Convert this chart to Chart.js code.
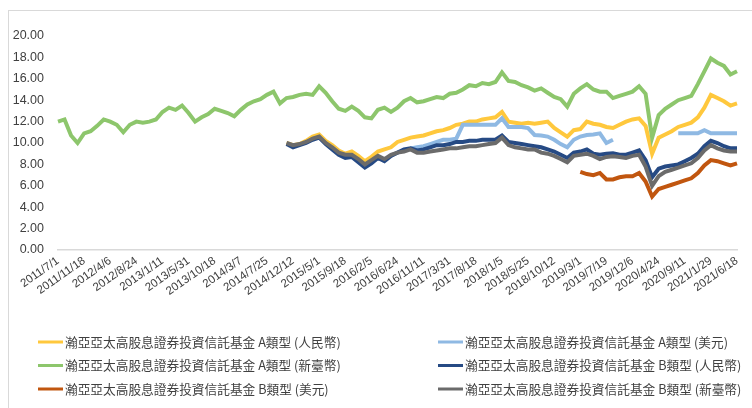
<!DOCTYPE html>
<html>
<head>
<meta charset="utf-8">
<script src="https://cdn.jsdelivr.net/npm/chart.js@4"></script>
<style>
html,body{margin:0;padding:0;background:#fff;overflow:hidden}
#frame{position:absolute;left:8px;top:10px;width:800px;height:500px;border-top:1px solid #d9d9d9;border-left:1px solid #d9d9d9}
#wrap{position:absolute;left:0;top:0;width:752px;height:408px}
</style>
</head>
<body>
<div id="frame"></div>
<div id="wrap"><canvas id="chart"></canvas></div>
<script>
// 每5週一點, 2011/7/1 ~ 2021/6/18
const startDate=Date.UTC(2011,6,1)
const pointCount=105

const names=[
"瀚亞亞太高股息證券投資信託基金 A類型 (人民幣)",
"瀚亞亞太高股息證券投資信託基金 A類型 (美元)",
"瀚亞亞太高股息證券投資信託基金 A類型 (新臺幣)",
"瀚亞亞太高股息證券投資信託基金 B類型 (人民幣)",
"瀚亞亞太高股息證券投資信託基金 B類型 (美元)",
"瀚亞亞太高股息證券投資信託基金 B類型 (新臺幣)"
]
const colors=["#ffc83d","#8fb9e3","#8dc66c","#264a84","#c1560f","#6b6b6b"]

const aTwd=[12.0,12.2,10.7,10.0,10.9,11.1,11.6,12.2,12.0,11.7,
11.0,11.7,12.0,11.9,12.0,12.2,12.9,13.3,13.1,13.5,
12.8,12.0,12.4,12.7,13.2,13.0,12.8,12.5,13.1,13.6,
13.9,14.1,14.5,14.8,13.7,14.2,14.3,14.5,14.6,14.5,
15.3,14.7,13.9,13.2,13.0,13.4,13.0,12.4,12.3,13.1,
13.3,12.9,13.3,13.9,14.2,13.8,13.9,14.1,14.3,14.2,
14.6,14.7,15.0,15.4,15.3,15.6,15.5,15.7,16.6,15.8,
15.7,15.4,15.2,14.9,15.1,14.7,14.3,14.1,13.4,14.6,
15.1,15.5,15.0,14.8,14.8,14.2,14.4,14.6,14.8,15.3,
14.6,10.5,12.6,13.2,13.6,14.0,14.2,14.4,15.5,16.7,
17.9,17.5,17.2,16.4,16.7]

// 2014/11 起
const aRmbVals=[10.0,9.8,9.9,10.2,10.6,10.8,10.2,9.8,9.3,9.0,
9.2,8.8,8.3,8.7,9.2,9.4,9.6,10.1,10.3,10.5,
10.6,10.7,10.9,11.1,11.2,11.4,11.7,11.8,12.0,12.0,
12.2,12.3,12.4,12.9,12.0,11.9,11.8,11.9,11.8,11.9,
12.0,11.4,11.0,10.6,11.2,11.3,12.0,11.8,11.7,11.5,
11.4,11.7,12.0,12.2,12.3,11.6,9.0,10.5,10.8,11.1,
11.5,11.7,11.9,12.4,13.3,14.5,14.2,13.9,13.5,13.7]

const bRmbVals=[9.9,9.6,9.8,10.0,10.3,10.5,9.9,9.4,8.9,8.6,
8.7,8.2,7.7,8.1,8.6,8.3,8.8,9.1,9.4,9.5,
9.3,9.4,9.6,9.8,9.8,9.9,10.1,10.1,10.2,10.2,
10.3,10.3,10.3,10.7,10.1,10.0,9.9,9.8,9.7,9.6,
9.4,9.2,8.9,8.6,9.1,9.2,9.4,9.0,8.9,9.0,
9.05,8.9,8.9,9.1,9.3,8.4,6.8,7.6,7.8,7.9,
8.0,8.3,8.6,9.0,9.7,10.2,10.0,9.7,9.5,9.5]

const bTwdVals=[10.0,9.8,9.9,10.1,10.4,10.6,10.0,9.6,9.1,8.9,
8.9,8.5,8.0,8.4,8.8,8.5,8.9,9.1,9.2,9.4,
9.1,9.1,9.2,9.3,9.4,9.5,9.5,9.6,9.7,9.7,
9.8,9.9,10.0,10.5,9.8,9.6,9.5,9.4,9.4,9.1,
9.0,8.8,8.5,8.2,8.8,8.9,9.0,8.8,8.5,8.7,
8.75,8.7,8.6,8.8,8.9,7.8,6.0,6.9,7.3,7.5,
7.7,7.9,8.1,8.6,9.3,9.8,9.5,9.3,9.2,9.2]

// A美元: 兩段
const aUsdVals1=[9.5,9.6,9.7,9.9,10.1,10.3,10.3,10.4,11.7,11.7,
11.7,11.7,11.7,11.7,12.3,11.5,11.5,11.5,11.4,10.75,
10.7,10.6,10.3,9.9,9.6,10.3,10.6,10.75,10.8,10.9,
10.0,10.3]
const aUsdVals2=[10.9,10.9,10.9,10.9,11.2,10.9,10.9,10.9,10.9,10.9]

// 2019/3/1 起
const bUsdVals=[7.3,7.1,7.0,7.2,6.6,6.6,6.8,6.9,6.9,7.2,
6.4,5.0,5.7,5.9,6.1,6.3,6.5,6.7,7.2,7.9,
8.4,8.3,8.1,7.9,8.1]

function pad(start,vals){
let out=Array(start).fill(null).concat(vals)
while(out.length<pointCount)out.push(null)
return out
}

const labels=[]
for(let i=0;i<pointCount;i++){
let d=new Date(startDate+i*35*86400000)
labels.push(d.getUTCFullYear()+"/"+(d.getUTCMonth()+1)+"/"+d.getUTCDate())
}

const aRmb=pad(35,aRmbVals)
const aUsd=pad(54,aUsdVals1.concat(Array(9).fill(null),aUsdVals2))
const bRmb=pad(35,bRmbVals)
const bUsd=pad(80,bUsdVals)
const bTwd=pad(35,bTwdVals)

const series=[aRmb,aUsd,aTwd,bRmb,bUsd,bTwd]

const legendGrid={
id:'legendGrid',
afterDraw(chart){
const ctx=chart.ctx
ctx.save()
ctx.font='12.7px "Noto Sans CJK TC"'
ctx.textBaseline='middle'
chart.data.datasets.forEach((ds,i)=>{
let x=i%2?438:38
let y=342+Math.floor(i/2)*23.5
ctx.strokeStyle=ds.borderColor
ctx.lineWidth=3
ctx.beginPath()
ctx.moveTo(x,y)
ctx.lineTo(x+25,y)
ctx.stroke()
ctx.fillStyle='#404040'
ctx.fillText(ds.label,x+27,y)
})
ctx.restore()
}
}

new Chart(document.getElementById("chart"),{
type:'line',
data:{
labels:labels,
datasets:series.map((s,i)=>({
label:names[i],
data:s,
borderColor:colors[i],
backgroundColor:colors[i],
borderWidth:4,
pointRadius:0,
tension:0,
spanGaps:false,
order:6-i
}))
},
options:{
responsive:true,
maintainAspectRatio:false,
animation:false,
layout:{padding:{top:36,right:15,bottom:88,left:0}},
plugins:{legend:{display:false},tooltip:{enabled:false}},
scales:{
x:{
grid:{display:false,drawTicks:false},
border:{display:true,color:'#d9d9d9',width:1.5},
ticks:{
autoSkip:false,minRotation:35,maxRotation:35,padding:4,
color:'#404040',font:{size:11.5,family:'"Liberation Sans"'},
callback:function(v,i){return i%4===0?this.getLabelForValue(v):null}
},
afterFit(s){s.height=70}
},
y:{
min:0,max:20,
grid:{display:false,drawTicks:false},
border:{display:false},
ticks:{stepSize:2,padding:14,color:'#404040',font:{size:12.5,family:'"Liberation Sans"'},
callback:v=>v.toFixed(2)},
afterFit(s){s.width=58}
}
}
},
plugins:[legendGrid]
})
</script>
</body>
</html>
